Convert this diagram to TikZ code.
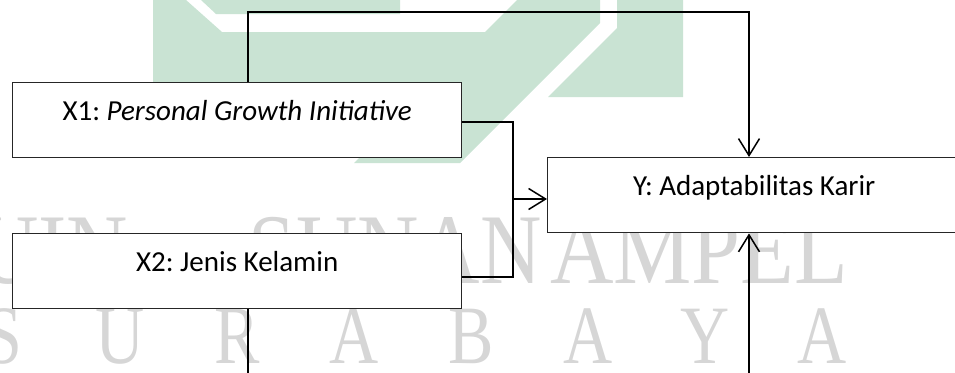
\documentclass[tikz,border=0pt]{standalone}
\usepackage{fontspec}
\setmainfont{Carlito}
\newfontfamily\wmfont{Liberation Serif}
\usetikzlibrary{arrows.meta}
\definecolor{wmgreen}{RGB}{201,227,211}
\definecolor{wmgray}{RGB}{214,214,214}
\frenchspacing
\begin{document}
\begin{tikzpicture}[x=1pt,y=-1pt,
  box/.style={draw=black!85, line width=1.4pt, fill=white, rectangle, inner sep=0pt,
    text height=38pt, text depth=37pt, anchor=north west,
    font=\fontsize{29}{34}\selectfont},
  conn/.style={line width=1.5pt, draw=black},
  tip/.style={-{Straight Barb[length=17pt,width=21pt]}},
  wmletter/.style={text=wmgray, inner sep=0pt, font=\wmfont\fontsize{100}{100}\selectfont},
  wmletterb/.style={text=wmgray, inner sep=0pt, font=\wmfont\fontsize{83}{83}\selectfont}]
\useasboundingbox (0,0) rectangle (955,372);
\clip (0,0) rectangle (955,372);
% watermark
\fill[wmgreen] (153,0) -- (186,0) -- (222,32) -- (485,32) -- (517,0) -- (600,0) -- (600,23)
  -- (460,163) -- (354,163) -- (395,122) -- (153,122) -- cycle;
\fill[wmgreen] (201,0) -- (400,0) -- (400,14) -- (216,14) -- cycle;
\fill[wmgreen] (617,0) -- (683,0) -- (683,97) -- (548,97) -- (617,28) -- cycle;
\node[wmletter, anchor=base west] (wmuin) at (-23,283) {\scalebox{0.85}[1]{UIN}};
\node[wmletter, anchor=base east] (wmsunan) at (542,283) {\scalebox{0.85}[1]{SUNAN}};
\node[wmletter, anchor=base west] (wmampel) at (550,283) {\scalebox{0.88}[1]{AMPEL}};
\foreach \ch/\xx [count=\i] in {S/3,U/120,R/237,A/354,B/471,A/588,Y/705,A/822}
  \node[wmletterb, anchor=base] (wms\i) at (\xx,363) {\scalebox{0.82}[1]{\ch}};
% boxes
\node[box, minimum width=449pt] (x1) at (12,82) {X1: \textit{Personal Growth Initiative}};
\node[box, minimum width=449pt] (x2) at (12,233) {X2: Jenis Kelamin};
\node[box, minimum width=413pt] (y) at (547,157) {Y: Adaptabilitas Karir};
% connectors
\coordinate (tl) at (248,12);
\coordinate (tr) at (749,12);
\draw[conn,tip] (x1.north -| tl) -- (tl) -- (tr) -- (tr |- y.north);
\coordinate (mj) at (513,199);
\draw[conn, line width=2.2pt] ([yshift=-1.5pt]x1.east) -| (mj) |- ([yshift=-5.5pt]x2.east);
\draw[conn,tip] (mj) -- (mj -| y.west);
\coordinate (b1) at (248,380);
\coordinate (b2) at (749,380);
\draw[conn] (x2.south -| b1) -- (b1);
\draw[conn,tip] (b2) -- (b2 |- y.south);
\end{tikzpicture}
\end{document}
